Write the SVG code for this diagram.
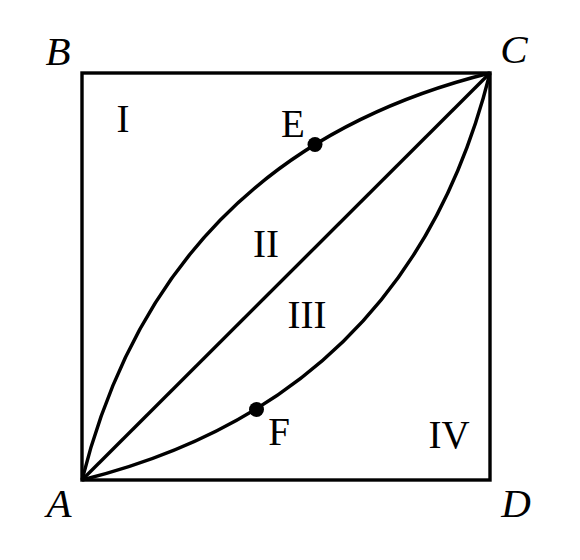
<svg xmlns="http://www.w3.org/2000/svg" width="580" height="560" viewBox="0 0 580 560">
<style>
.ln{fill:none;stroke:#000;stroke-width:3.4;stroke-linejoin:miter}
.lab{font-family:"Liberation Serif",serif;font-size:39px;fill:#000;text-anchor:middle}
.it{font-style:italic;font-size:41px}
</style>
<rect width="580" height="560" fill="#fff"/>
<g id="connectors">
<rect class="ln" x="82" y="73" width="408" height="407"/>
<line class="ln" x1="82" y1="480" x2="490" y2="73"/>
<path class="ln" d="M82,480 Q163.6,154.4 490,73"/>
<path class="ln" d="M82,480 Q408.4,398.6 490,73"/>
</g>
<g id="E"><circle cx="315" cy="144.5" r="7.5"/><text class="lab" x="293" y="137">E</text></g>
<g id="F"><circle cx="256.5" cy="409.5" r="7.5"/><text class="lab" x="279" y="445">F</text></g>
<g id="A"><text class="lab it" x="59" y="517">A</text></g>
<g id="B"><text class="lab it" x="58" y="65">B</text></g>
<g id="C"><text class="lab it" x="514" y="63">C</text></g>
<g id="D"><text class="lab it" x="516" y="517">D</text></g>
<g id="regions">
<text class="lab" x="123" y="132">I</text>
<text class="lab" x="266" y="257">II</text>
<text class="lab" x="307" y="328">III</text>
<text class="lab" x="449" y="448">IV</text>
</g>
</svg>
